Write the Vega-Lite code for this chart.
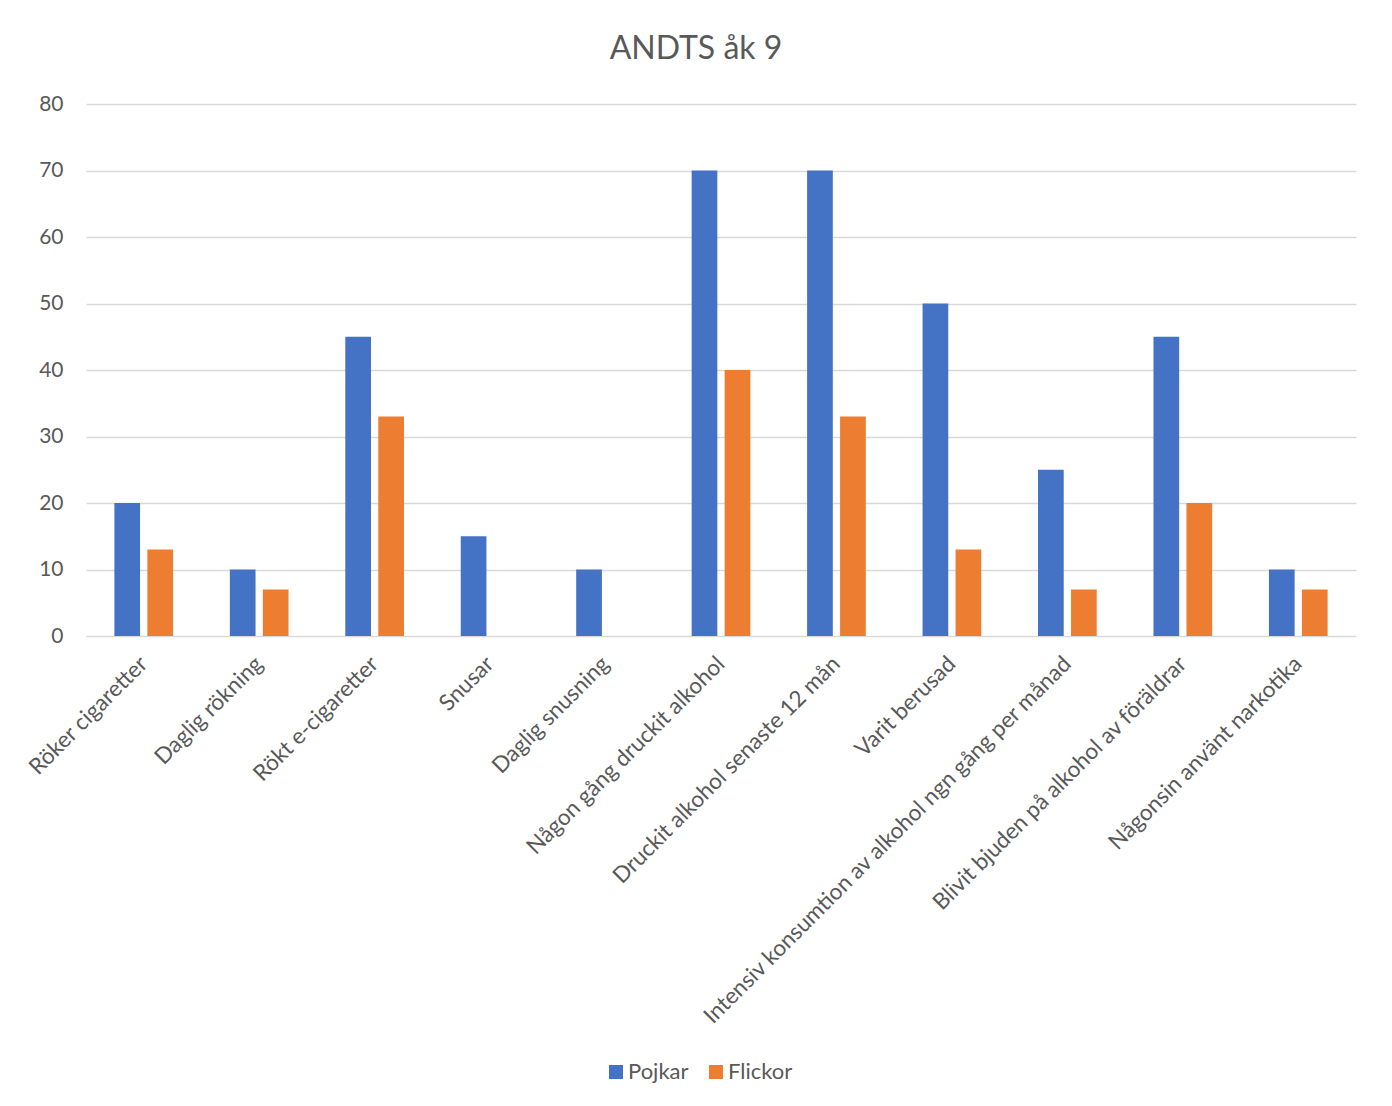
{
  "$schema": "https://vega.github.io/schema/vega-lite/v6.json",
  "autosize": {"type": "none"},
  "padding": {"left": 86, "top": 104, "right": 36, "bottom": 470},
  "width": 1270,
  "height": 532,
  "background": "white",
  "title": {
    "text": "ANDTS åk 9",
    "font": "Lato",
    "fontSize": 32,
    "fontWeight": "normal",
    "color": "#595959",
    "anchor": "middle",
    "dx": -25,
    "offset": 27
  },
  "data": {
    "values": [
      {"kategori": "Röker cigaretter", "grupp": "Pojkar", "andel": 20},
      {"kategori": "Röker cigaretter", "grupp": "Flickor", "andel": 13},
      {"kategori": "Daglig rökning", "grupp": "Pojkar", "andel": 10},
      {"kategori": "Daglig rökning", "grupp": "Flickor", "andel": 7},
      {"kategori": "Rökt e-cigaretter", "grupp": "Pojkar", "andel": 45},
      {"kategori": "Rökt e-cigaretter", "grupp": "Flickor", "andel": 33},
      {"kategori": "Snusar", "grupp": "Pojkar", "andel": 15},
      {"kategori": "Snusar", "grupp": "Flickor", "andel": 0},
      {"kategori": "Daglig snusning", "grupp": "Pojkar", "andel": 10},
      {"kategori": "Daglig snusning", "grupp": "Flickor", "andel": 0},
      {"kategori": "Någon gång druckit alkohol", "grupp": "Pojkar", "andel": 70},
      {"kategori": "Någon gång druckit alkohol", "grupp": "Flickor", "andel": 40},
      {"kategori": "Druckit alkohol senaste 12 mån", "grupp": "Pojkar", "andel": 70},
      {"kategori": "Druckit alkohol senaste 12 mån", "grupp": "Flickor", "andel": 33},
      {"kategori": "Varit berusad", "grupp": "Pojkar", "andel": 50},
      {"kategori": "Varit berusad", "grupp": "Flickor", "andel": 13},
      {"kategori": "Intensiv konsumtion av alkohol ngn gång per månad", "grupp": "Pojkar", "andel": 25},
      {"kategori": "Intensiv konsumtion av alkohol ngn gång per månad", "grupp": "Flickor", "andel": 7},
      {"kategori": "Blivit bjuden på alkohol av föräldrar", "grupp": "Pojkar", "andel": 45},
      {"kategori": "Blivit bjuden på alkohol av föräldrar", "grupp": "Flickor", "andel": 20},
      {"kategori": "Någonsin använt narkotika", "grupp": "Pojkar", "andel": 10},
      {"kategori": "Någonsin använt narkotika", "grupp": "Flickor", "andel": 7}
    ]
  },
  "mark": {"type": "bar"},
  "encoding": {
    "x": {
      "field": "kategori",
      "type": "nominal",
      "sort": null,
      "scale": {"paddingInner": 0.4916, "paddingOuter": 0.2458},
      "axis": {
        "title": null,
        "labelAngle": -45,
        "labelAlign": "right",
        "labelBaseline": "middle",
        "labelFont": "Lato",
        "labelFontSize": 22.5,
        "labelColor": "#595959",
        "labelPadding": 24,
        "labelLimit": 0,
        "ticks": false,
        "domain": false,
        "grid": false
      }
    },
    "xOffset": {
      "field": "grupp",
      "type": "nominal",
      "sort": ["Pojkar", "Flickor"],
      "scale": {"paddingInner": 0.221, "paddingOuter": 0}
    },
    "y": {
      "field": "andel",
      "type": "quantitative",
      "scale": {"domain": [0, 80], "nice": false},
      "axis": {
        "title": null,
        "values": [0, 10, 20, 30, 40, 50, 60, 70, 80],
        "labelFont": "Lato",
        "labelFontSize": 21,
        "labelColor": "#595959",
        "labelPadding": 23,
        "ticks": false,
        "domain": false,
        "grid": true,
        "gridColor": "#d9d9d9",
        "gridWidth": 1.5
      }
    },
    "color": {
      "field": "grupp",
      "type": "nominal",
      "sort": ["Pojkar", "Flickor"],
      "scale": {"domain": ["Pojkar", "Flickor"], "range": ["#4472C4", "#ED7D31"]},
      "legend": {
        "title": null,
        "orient": "none",
        "direction": "horizontal",
        "legendX": 519,
        "legendY": 957,
        "symbolType": "square",
        "symbolSize": 196,
        "symbolStrokeWidth": 0,
        "labelFont": "Lato",
        "labelFontSize": 22,
        "labelColor": "#595959",
        "labelOffset": 1,
        "columnPadding": 16
      }
    }
  },
  "config": {
    "view": {"stroke": null}
  }
}
